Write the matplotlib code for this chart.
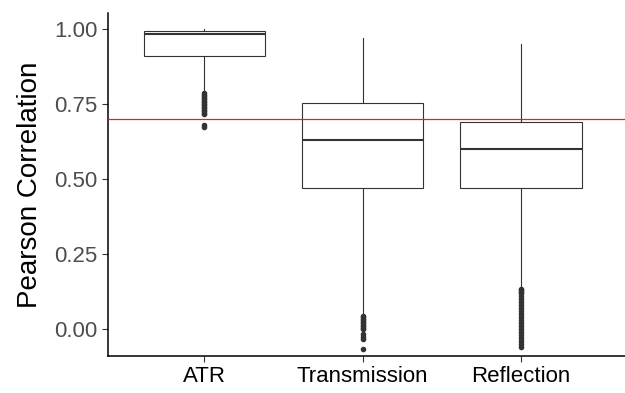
import matplotlib
matplotlib.use("Agg")
import matplotlib.pyplot as plt

categories = ["ATR", "Transmission", "Reflection"]
q1 = [0.91, 0.47, 0.47]
median = [0.983, 0.63, 0.60]
q3 = [0.993, 0.753, 0.69]
whisker_low = [0.79, 0.05, 0.14]
whisker_high = [1.0, 0.97, 0.95]
outliers_atr = [0.785, 0.78, 0.775, 0.77, 0.765, 0.76, 0.755, 0.75, 0.745,
                0.74, 0.735, 0.73, 0.725, 0.72, 0.715, 0.68, 0.672]
outliers_transmission = [0.045, 0.04, 0.035, 0.03, 0.025, 0.02, 0.015, 0.01,
                         0.005, 0.0, -0.018, -0.025, -0.032, -0.067]
outliers_reflection = [0.135, 0.13, 0.125, 0.12, 0.11, 0.1, 0.09, 0.08, 0.07,
                       0.06, 0.05, 0.04, 0.03, 0.02, 0.01, 0.0, -0.01, -0.02,
                       -0.03, -0.04, -0.05, -0.06]
threshold = 0.70
yticks = [0.00, 0.25, 0.50, 0.75, 1.00]

fliers = [outliers_atr, outliers_transmission, outliers_reflection]
stats = []
for i, c in enumerate(categories):
    stats.append(dict(label=c, q1=q1[i], med=median[i], q3=q3[i],
                      whislo=whisker_low[i], whishi=whisker_high[i],
                      fliers=fliers[i]))

plt.rcParams['font.family'] = ['Liberation Sans', 'DejaVu Sans']
fig = plt.figure(figsize=(6.25, 3.93), dpi=100)
ax = fig.add_axes([0.1728, 0.094, 0.8272, 0.873])

g20 = "#333333"
ax.bxp(stats, positions=[1, 2, 3], widths=0.77, showcaps=False,
       patch_artist=True,
       boxprops=dict(facecolor="white", edgecolor=g20, linewidth=0.8),
       whiskerprops=dict(color=g20, linewidth=0.8),
       medianprops=dict(color=g20, linewidth=1.5),
       flierprops=dict(marker="o", markersize=3.0, markerfacecolor=g20,
                       markeredgecolor=g20, linestyle="none"),
       zorder=2)
ax.axhline(threshold, color="#E4202A", lw=0.9, zorder=3)

ax.set_xlim(0.39, 3.66)
ax.set_ylim(-0.09, 1.053)
ax.set_yticks(yticks)
ax.set_yticklabels([f"{v:.2f}" for v in yticks])
ax.set_xticks([1, 2, 3])
ax.set_xticklabels(categories)
ax.tick_params(axis="both", colors=g20, length=4, width=0.8, labelsize=16)
for lab in ax.get_yticklabels():
    lab.set_color("#4D4D4D")
for lab in ax.get_xticklabels():
    lab.set_color("black")
ax.set_ylabel("Pearson Correlation", fontsize=20, color="black", labelpad=8)

for s in ["top", "right"]:
    ax.spines[s].set_visible(False)
for s in ["left", "bottom"]:
    ax.spines[s].set_color("black")
    ax.spines[s].set_linewidth(1.1)

fig.savefig("out.png", dpi=100, facecolor="white")
